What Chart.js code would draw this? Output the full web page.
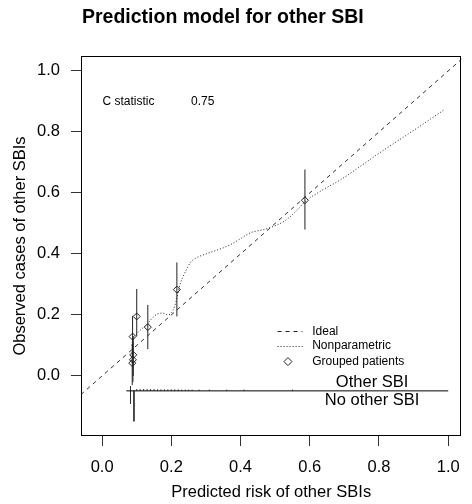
<!DOCTYPE html>
<html>
<head>
<meta charset="utf-8">
<script src="https://cdn.jsdelivr.net/npm/chart.js@4.4.1/dist/chart.umd.min.js"></script>
<style>
  body { margin: 0; background: #fff; }
  #wrap { width: 472px; height: 504px; }
</style>
</head>
<body>
<div id="wrap"><canvas id="calib" width="472" height="504"></canvas></div>
<script>
// grouped patients: mean predicted risk, observed proportion, 95% CI
const groupPred = [0.087, 0.089, 0.090, 0.088, 0.100, 0.132, 0.216, 0.586];
const groupObs  = [0.042, 0.053, 0.069, 0.129, 0.195, 0.160, 0.283, 0.576];
const groupLow  = [-0.03, -0.02, 0.00, 0.06, 0.13, 0.088, 0.195, 0.48];
const groupHigh = [0.10, 0.11, 0.13, 0.197, 0.285, 0.233, 0.372, 0.677];

// nonparametric (loess) calibration curve
const npX = [0.085, 0.09, 0.10, 0.115, 0.13, 0.145, 0.16, 0.175, 0.19, 0.205, 0.215, 0.225, 0.24, 0.255,
             0.272, 0.30, 0.32, 0.35, 0.37, 0.40, 0.43, 0.46, 0.49, 0.53, 0.56, 0.59, 0.63, 0.69, 0.80, 0.90, 0.99];
const npY = [0.10, 0.124, 0.138, 0.155, 0.17, 0.19, 0.203, 0.206, 0.20, 0.215, 0.25, 0.30, 0.34, 0.372,
             0.387, 0.40, 0.408, 0.42, 0.43, 0.45, 0.47, 0.478, 0.488, 0.51, 0.54, 0.575, 0.605, 0.644, 0.73, 0.805, 0.874];

// spike histogram of predicted risks (up: other SBI, down: no other SBI)
const spikeBase = -0.049;
const spikeStart = 0.07, spikeEnd = 1.0;
const spikeUpX = [0.082, 0.10, 0.11, 0.12, 0.13, 0.14, 0.15, 0.16, 0.17, 0.18, 0.19, 0.20, 0.21, 0.22,
                  0.23, 0.24, 0.25, 0.26, 0.28, 0.31, 0.36, 0.41, 0.55];
const spikeUpH = [0.016, 0.006, 0.006, 0.006, 0.006, 0.006, 0.006, 0.005, 0.005, 0.005, 0.005, 0.005, 0.005, 0.005,
                  0.004, 0.004, 0.004, 0.004, 0.004, 0.004, 0.004, 0.004, 0.004];
const spikeDownX = [0.082, 0.092];
const spikeDownH = [0.042, 0.10];

const xTicks = [0, 0.2, 0.4, 0.6, 0.8, 1.0];
const yTicks = [0, 0.2, 0.4, 0.6, 0.8, 1.0];

const cStat = 0.75;

const FONT = '"Liberation Sans", Arial, sans-serif';

// turn pairs of endpoints into one broken line
function segments(xs, from, to) {
  const out = [];
  xs.forEach((v, i) => {
    out.push({ x: v, y: from[i] }, { x: v, y: to[i] }, { x: v, y: null });
  });
  return out;
}

const errBars = segments(groupPred, groupLow, groupHigh);
const upSpikes = segments(spikeUpX, spikeUpX.map(() => spikeBase), spikeUpH.map(h => spikeBase + h));
const downSpikes = segments(spikeDownX, spikeDownX.map(() => spikeBase), spikeDownH.map(h => spikeBase - h));

const annotate = {
  id: 'annotate',
  afterDraw(chart) {
    const { ctx, chartArea: a, scales: { x, y } } = chart;
    ctx.save();

    // frame
    ctx.strokeStyle = '#000';
    ctx.lineWidth = 1;
    ctx.strokeRect(Math.round(a.left) + 0.5, Math.round(a.top) + 0.5,
                   Math.round(a.right - a.left) - 1, Math.round(a.bottom - a.top) - 1);

    // title
    ctx.fillStyle = '#000';
    ctx.font = 'bold 19.5px ' + FONT;
    ctx.textAlign = 'left';
    ctx.textBaseline = 'middle';
    ctx.fillText('Prediction model for other SBI', 82, 18);

    // C statistic
    ctx.font = '12px ' + FONT;
    ctx.fillText('C statistic', x.getPixelForValue(0.001), y.getPixelForValue(0.899));
    ctx.fillText(cStat.toFixed(2), x.getPixelForValue(0.257), y.getPixelForValue(0.899));

    // legend
    const rows = [0.146, 0.099, 0.047];
    const lx0 = x.getPixelForValue(0.507), lx1 = x.getPixelForValue(0.579);
    const tx = x.getPixelForValue(0.607);
    ctx.strokeStyle = '#222';
    ctx.setLineDash([4, 4]);
    ctx.beginPath();
    ctx.moveTo(lx0, Math.round(y.getPixelForValue(rows[0])) + 0.5);
    ctx.lineTo(lx1, Math.round(y.getPixelForValue(rows[0])) + 0.5);
    ctx.stroke();
    ctx.setLineDash([1, 2]);
    ctx.beginPath();
    ctx.moveTo(lx0, Math.round(y.getPixelForValue(rows[1])) + 0.5);
    ctx.lineTo(lx1, Math.round(y.getPixelForValue(rows[1])) + 0.5);
    ctx.stroke();
    ctx.setLineDash([]);
    const dx = x.getPixelForValue(0.537), dy = y.getPixelForValue(rows[2]);
    ctx.beginPath();
    ctx.moveTo(dx, dy - 4); ctx.lineTo(dx + 4, dy); ctx.lineTo(dx, dy + 4); ctx.lineTo(dx - 4, dy);
    ctx.closePath();
    ctx.stroke();
    ['Ideal', 'Nonparametric', 'Grouped patients'].forEach((t, i) => {
      ctx.fillText(t, tx, y.getPixelForValue(rows[i]));
    });

    // spike histogram labels
    ctx.font = '16.5px ' + FONT;
    ctx.textAlign = 'center';
    ctx.fillText('Other SBI', x.getPixelForValue(0.78), y.getPixelForValue(-0.021));
    ctx.fillText('No other SBI', x.getPixelForValue(0.78), y.getPixelForValue(-0.079));
    ctx.restore();
  }
};

const axisFont = { family: FONT, size: 16.5 };

new Chart(document.getElementById('calib'), {
  type: 'scatter',
  data: {
    datasets: [
      {
        label: 'Ideal',
        data: [{ x: -0.2, y: -0.2 }, { x: 1.2, y: 1.2 }],
        showLine: true, borderColor: '#333', borderWidth: 1, borderDash: [4, 4], pointRadius: 0
      },
      {
        label: 'Nonparametric',
        data: npX.map((v, i) => ({ x: v, y: npY[i] })),
        showLine: true, borderColor: '#222', borderWidth: 1, borderDash: [1, 2], pointRadius: 0,
        cubicInterpolationMode: 'monotone'
      },
      {
        label: 'CI',
        data: errBars,
        showLine: true, borderColor: '#222', borderWidth: 1, pointRadius: 0
      },
      {
        label: 'Grouped patients',
        data: groupPred.map((v, i) => ({ x: v, y: groupObs[i] })),
        showLine: false, pointStyle: 'rectRot', pointRadius: 3.5, borderWidth: 1,
        borderColor: '#222', backgroundColor: 'rgba(0,0,0,0)'
      },
      {
        label: 'baseline',
        data: [{ x: spikeStart, y: spikeBase }, { x: spikeEnd, y: spikeBase }],
        showLine: true, borderColor: '#000', borderWidth: 1, pointRadius: 0
      },
      {
        label: 'events',
        data: upSpikes,
        showLine: true, borderColor: '#333', borderWidth: 1, pointRadius: 0
      },
      {
        label: 'non-events',
        data: downSpikes,
        showLine: true, borderColor: '#333', borderWidth: 1, pointRadius: 0
      }
    ]
  },
  options: {
    responsive: false,
    animation: false,
    events: [],
    layout: { padding: { top: 56, right: 9, left: 0, bottom: 0 } },
    plugins: { legend: { display: false }, tooltip: { enabled: false } },
    scales: {
      x: {
        type: 'linear', min: -0.061, max: 1.038,
        afterBuildTicks: s => { s.ticks = xTicks.map(v => ({ value: v })); },
        afterFit: s => { s.height = 68; },
        grid: { display: true, drawOnChartArea: false, drawTicks: true, tickLength: 10, color: '#333' },
        border: { display: false },
        ticks: { color: '#000', font: axisFont, padding: 12, maxRotation: 0, callback: v => v.toFixed(1) },
        title: { display: true, text: 'Predicted risk of other SBIs', color: '#000', font: axisFont,
                 padding: { top: 0, bottom: 2 } }
      },
      y: {
        type: 'linear', min: -0.197, max: 1.049,
        afterBuildTicks: s => { s.ticks = yTicks.map(v => ({ value: v })); },
        afterFit: s => { s.width = 81; },
        grid: { display: true, drawOnChartArea: false, drawTicks: true, tickLength: 10, color: '#333' },
        border: { display: false },
        ticks: { color: '#000', font: axisFont, padding: 11, callback: v => v.toFixed(1) },
        title: { display: true, text: 'Observed cases of other SBIs', color: '#000', font: axisFont,
                 padding: { top: 11, bottom: 0 } }
      }
    }
  },
  plugins: [annotate]
});
</script>
</body>
</html>
